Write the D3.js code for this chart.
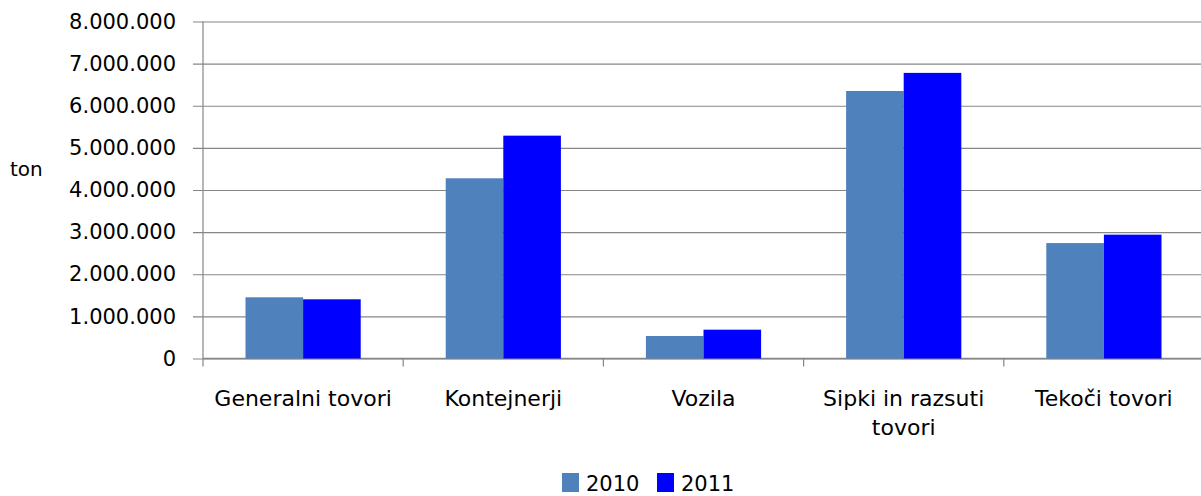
<!DOCTYPE html>
<html>
<head>
<meta charset="utf-8">
<script src="https://cdn.jsdelivr.net/npm/d3@7"></script>
<style>
  body { margin: 0; background: #fff; }
  text { font-family: "DejaVu Sans", sans-serif; fill: #000; }
</style>
</head>
<body>
<script>
// chart data
const categories = ["Generalni tovori", "Kontejnerji", "Vozila", "Sipki in razsuti tovori", "Tekoči tovori"];
const seriesNames = ["2010", "2011"];
const values2010 = [1453000, 4278000, 534000, 6350000, 2740000];
const values2011 = [1405000, 5290000, 684000, 6780000, 2940000];
const yTicks = [0, 1000000, 2000000, 3000000, 4000000, 5000000, 6000000, 7000000, 8000000];
const colors = ["#4F81BD", "#0000FF"];

(function app() {
  const W = 1201, H = 496;
  const margin = { top: 21.5, left: 203, bottom: 137.5 };
  const plotW = 1001;
  const plotH = H - margin.top - margin.bottom;

  const svg = d3.select("body").append("svg")
    .attr("width", W)
    .attr("height", H);

  const x = d3.scaleBand()
    .domain(categories)
    .range([0, plotW]);

  const xs = d3.scaleBand()
    .domain(seriesNames)
    .range([42.5, x.bandwidth() - 42.5]);

  const y = d3.scaleLinear()
    .domain([0, 8000000])
    .range([plotH, 0]);

  const fmt = d3.formatLocale({ decimal: ",", thousands: ".", grouping: [3], currency: ["", ""] }).format(",");

  const g = svg.append("g")
    .attr("transform", `translate(${margin.left},${margin.top})`);

  // y axis with grid lines (ticks stick out 10px to the left)
  const yAxis = d3.axisLeft(y)
    .tickValues(yTicks)
    .tickFormat(fmt)
    .tickSize(-(plotW + 10))
    .tickPadding(17);

  g.append("g")
    .attr("class", "axis y")
    .attr("transform", "translate(-10,0)")
    .call(yAxis)
    .call(a => a.select(".domain").remove())
    .call(a => a.selectAll("line").attr("stroke", "#868686").attr("stroke-width", 1.2))
    .call(a => a.selectAll("text")
      .style("font-size", "21px")
      .style("font-family", "DejaVu Sans"));

  // left axis line
  g.append("line")
    .attr("x1", 0).attr("x2", 0)
    .attr("y1", 0).attr("y2", plotH)
    .attr("stroke", "#868686")
    .attr("stroke-width", 1.2);

  // bottom axis line + ticks at category borders
  g.append("line")
    .attr("x1", 0).attr("x2", plotW)
    .attr("y1", plotH).attr("y2", plotH)
    .attr("stroke", "#868686")
    .attr("stroke-width", 1.5);

  const borders = categories.map(c => x(c)).concat([plotW]);
  g.append("g")
    .selectAll("line")
    .data(borders)
    .enter()
    .append("line")
    .attr("x1", d => d).attr("x2", d => d)
    .attr("y1", plotH).attr("y2", plotH + 8)
    .attr("stroke", "#868686")
    .attr("stroke-width", 1.2);

  // bars
  const rows = categories.map((c, i) => ({ cat: c, vals: [values2010[i], values2011[i]] }));
  const grp = g.append("g").attr("class", "bars")
    .selectAll("g")
    .data(rows)
    .enter()
    .append("g")
    .attr("transform", d => `translate(${x(d.cat)},0)`);

  grp.selectAll("rect")
    .data(d => d.vals.map((v, j) => ({ s: seriesNames[j], v: v, j: j })))
    .enter()
    .append("rect")
    .attr("x", d => xs(d.s))
    .attr("width", xs.bandwidth())
    .attr("y", d => y(d.v))
    .attr("height", d => plotH - y(d.v))
    .attr("fill", d => colors[d.j]);

  // category labels (wrapped)
  const labels = g.append("g").attr("class", "xlabels")
    .selectAll("text")
    .data(categories)
    .enter()
    .append("text")
    .attr("x", d => x(d) + x.bandwidth() / 2)
    .attr("y", plotH + 47)
    .attr("text-anchor", "middle")
    .style("font-size", "22px");

  labels.each(function (d) {
    const t = d3.select(this);
    const words = d.split(" ");
    let line = [];
    let tspan = t.append("tspan").attr("x", t.attr("x")).attr("dy", 0);
    words.forEach(w => {
      line.push(w);
      tspan.text(line.join(" "));
      if (tspan.node().getComputedTextLength() > 185 && line.length > 1) {
        line.pop();
        tspan.text(line.join(" "));
        line = [w];
        tspan = t.append("tspan").attr("x", t.attr("x")).attr("dy", 29).text(w);
      }
    });
  });

  // y axis title
  svg.append("text")
    .attr("x", 10)
    .attr("y", 176)
    .style("font-size", "20px")
    .text("ton");

  // legend
  const legend = svg.append("g").attr("class", "legend")
    .attr("transform", "translate(562,473)");
  const items = legend.selectAll("g")
    .data(seriesNames)
    .enter()
    .append("g")
    .attr("transform", (d, i) => `translate(${i * 95},0)`);
  items.append("rect")
    .attr("width", 17)
    .attr("height", 19)
    .attr("fill", (d, i) => colors[i]);
  items.append("text")
    .attr("x", 24)
    .attr("y", 18)
    .style("font-size", "21px")
    .text(d => d);
})();
</script>
</body>
</html>
